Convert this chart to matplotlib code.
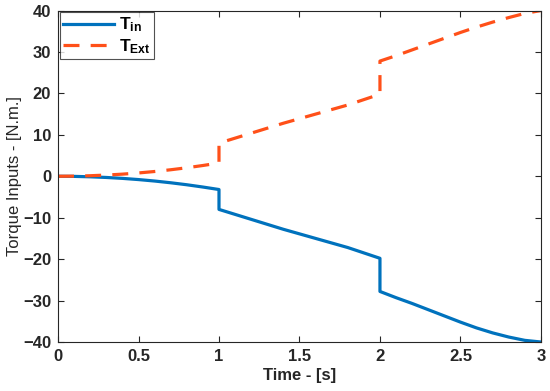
import matplotlib
matplotlib.use("Agg")
import matplotlib.pyplot as plt

plt.rcParams['font.family'] = ['Liberation Sans', 'DejaVu Sans']
plt.rcParams['mathtext.fontset'] = 'custom'
plt.rcParams['mathtext.rm'] = 'Liberation Sans'
plt.rcParams['mathtext.bf'] = 'Liberation Sans:bold'
plt.rcParams['mathtext.it'] = 'Liberation Sans:italic'

# time samples (jumps at t=1 and t=2 are repeated)
time = [0.0, 0.1, 0.2, 0.3, 0.4, 0.5, 0.6, 0.7, 0.8, 0.9, 1.0,
        1.0, 1.1, 1.2, 1.3, 1.4, 1.5, 1.6, 1.7, 1.8, 1.9, 2.0,
        2.0, 2.1, 2.2, 2.3, 2.4, 2.5, 2.6, 2.7, 2.8, 2.9, 3.0]

t_in = [0.0, -0.03, -0.13, -0.29, -0.51, -0.8, -1.15, -1.57, -2.05, -2.6, -3.2,
        -8.0, -9.2, -10.4, -11.6, -12.8, -13.9, -15.0, -16.1, -17.2, -18.5, -19.8,
        -27.8, -29.3, -30.7, -32.2, -33.7, -35.2, -36.6, -37.8, -38.8, -39.6, -40.0]

t_ext = [0.0, 0.03, 0.13, 0.29, 0.51, 0.8, 1.15, 1.57, 2.05, 2.6, 3.2,
         8.0, 9.2, 10.4, 11.6, 12.8, 13.9, 15.0, 16.1, 17.2, 18.5, 19.8,
         27.8, 29.1, 30.5, 31.9, 33.3, 34.7, 36.0, 37.2, 38.3, 39.3, 40.0]

x_ticks = [0, 0.5, 1, 1.5, 2, 2.5, 3]
x_labels = ['0', '0.5', '1', '1.5', '2', '2.5', '3']
y_ticks = [-40, -30, -20, -10, 0, 10, 20, 30, 40]

fig = plt.figure(figsize=(5.5, 3.91), dpi=100)
ax = fig.add_axes([0.1055, 0.1253, 0.878, 0.8478])

ax.plot(time, t_in, color='#0072BD', lw=2.3, label=r'T$_{\mathbf{in}}$')
ax.plot(time, t_ext, color='#FF5019', lw=2.3, ls=(0, (5, 3.5)),
        label=r'T$_{\mathbf{Ext}}$')

ax.set_xlim(0, 3)
ax.set_ylim(-40, 40)
ax.set_xticks(x_ticks)
ax.set_xticklabels(x_labels)
ax.set_yticks(y_ticks)

ax.tick_params(direction='in', top=True, right=True, length=4, width=0.8,
               colors='#262626', labelsize=12, pad=5)
for lab in ax.get_xticklabels() + ax.get_yticklabels():
    lab.set_fontweight('bold')
for sp in ax.spines.values():
    sp.set_color('#262626')
    sp.set_linewidth(0.8)

ax.set_xlabel('Time - [s]', fontsize=12, fontweight='bold', color='#262626', labelpad=3)
ax.set_ylabel('Torque Inputs - [N.m.]', fontsize=12, color='#262626', labelpad=1)

leg = ax.legend(loc='upper left', fontsize=12.5, frameon=True, fancybox=False,
                edgecolor='#262626', borderaxespad=0.1, handlelength=2.9,
                handletextpad=0.3, borderpad=0.2, labelspacing=0.15)
leg.get_frame().set_linewidth(0.8)
for txt in leg.get_texts():
    txt.set_fontweight('bold')

fig.savefig('out.png', dpi=100)
